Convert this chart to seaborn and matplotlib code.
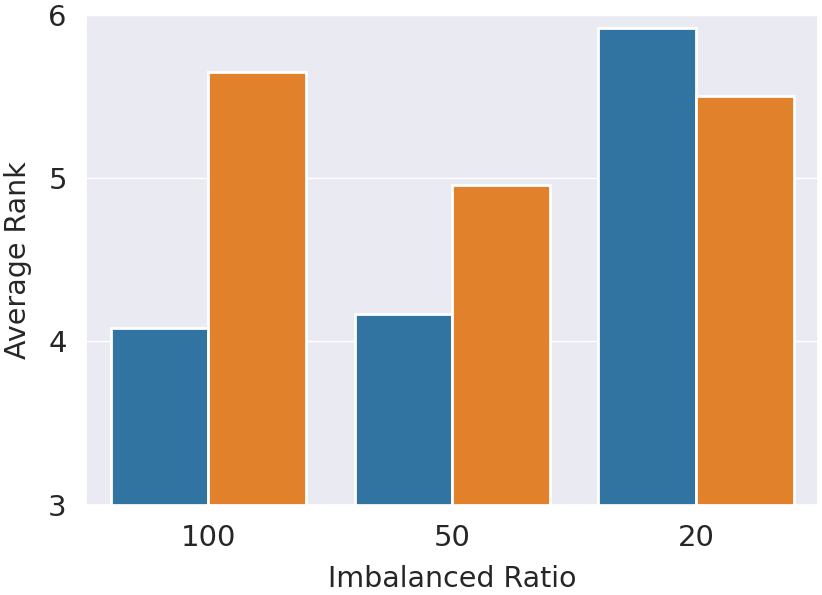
import matplotlib
matplotlib.use("Agg")
import matplotlib.pyplot as plt
import seaborn as sns
import pandas as pd

categories = ["100", "50", "20"]
series_names = ["A", "B"]
series_a = [4.08, 4.17, 5.92]
series_b = [5.65, 4.96, 5.50]

rows = []
for c, a, b in zip(categories, series_a, series_b):
    rows.append({"ratio": c, "method": series_names[0], "rank": a})
    rows.append({"ratio": c, "method": series_names[1], "rank": b})
df = pd.DataFrame(rows)

sns.set_theme(style="darkgrid")
plt.rcParams['font.family'] = ['DejaVu Sans']

fig, ax = plt.subplots(figsize=(8.22, 5.95), dpi=100)
sns.barplot(data=df, x="ratio", y="rank", hue="method", order=categories,
            palette=["#1f77b4", "#ff7f0e"], edgecolor="white", linewidth=2,
            saturation=0.75, ax=ax, legend=False)
ax.set_ylim(3, 6)
ax.set_yticks([3, 4, 5, 6])
ax.set_xlabel("Imbalanced Ratio", fontsize=20.5, labelpad=9)
ax.set_ylabel("Average Rank", fontsize=20.5, labelpad=12)
ax.tick_params(axis="both", labelsize=21, pad=8)
fig.subplots_adjust(left=0.105, right=0.995, top=0.975, bottom=0.152)
fig.savefig("out.png", dpi=100)
